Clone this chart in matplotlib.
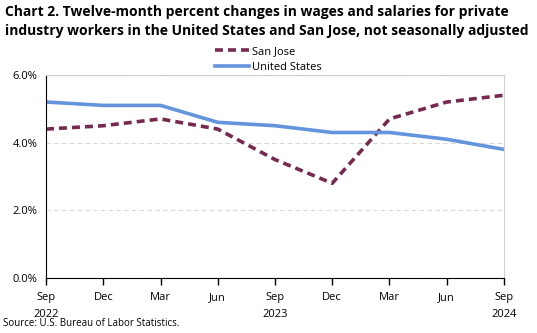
import matplotlib.pyplot as plt
from matplotlib.ticker import FuncFormatter

months = ["Sep\n2022", "Dec", "Mar", "Jun", "Sep\n2023", "Dec", "Mar", "Jun", "Sep\n2024"]
san_jose = [4.4, 4.5, 4.7, 4.4, 3.5, 2.8, 4.7, 5.2, 5.4]
united_states = [5.2, 5.1, 5.1, 4.6, 4.5, 4.3, 4.3, 4.1, 3.8]

plt.rcParams['font.family'] = ['Open Sans', 'DejaVu Sans']

fig = plt.figure(figsize=(5.37, 3.33), dpi=100)
ax = fig.add_axes([0.0857, 0.165, 0.8528, 0.61])

x = range(len(months))
ax.plot(x, san_jose, color="#772a4f", lw=2.6, ls=(0, (2.2, 1.4)), label="San Jose")
ax.plot(x, united_states, color="#6495dc", lw=2.6, label="United States")

ax.set_xlim(0, len(months) - 1)
ax.set_ylim(0, 6)
ax.set_yticks([0, 2, 4, 6])
ax.yaxis.set_major_formatter(FuncFormatter(lambda v, _: f"{v:.1f}%"))
ax.set_xticks(list(x))
ax.set_xticklabels(months, linespacing=1.75)
ax.tick_params(axis="x", length=5, width=1, direction="out", labelsize=8, pad=5)
ax.tick_params(axis="y", length=0, labelsize=8, pad=6)

ax.grid(axis="y", color="#d8d8d8", ls=(0, (4, 3)), lw=0.8)
ax.spines["left"].set_color("black")
ax.spines["bottom"].set_color("black")
ax.spines["top"].set_color("#d0d0d0")
ax.spines["right"].set_color("#d0d0d0")

fig.text(0.009, 0.985, "Chart 2. Twelve-month percent changes in wages and salaries for private\n"
         "industry workers in the United States and San Jose, not seasonally adjusted",
         fontsize=10, fontweight="bold", va="top", linespacing=1.45)

fig.legend(loc="center", bbox_to_anchor=(0.5, 0.822), frameon=False, fontsize=8,
           handlelength=3.0, handletextpad=0.3, labelspacing=0.45, borderpad=0)

fig.text(0.005, 0.02, "Source: U.S. Bureau of Labor Statistics.", fontsize=7)

fig.savefig("out.png", dpi=100)
